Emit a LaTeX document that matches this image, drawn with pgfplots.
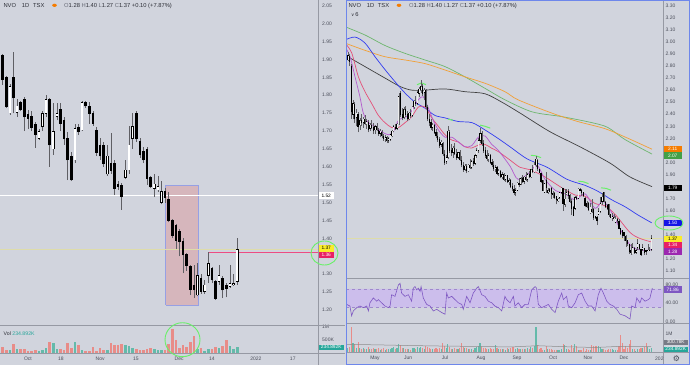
\documentclass[border=0pt]{standalone}
\usepackage{pgfplots}
\pgfplotsset{compat=1.18}
\usepackage{pgfplotstable}
\usepackage{fontspec}
\setmainfont{Liberation Sans}
\newfontfamily\symfont{DejaVu Sans}

\definecolor{bg}{RGB}{209,212,221}
\definecolor{sepc}{RGB}{150,153,163}
\definecolor{tickc}{RGB}{75,78,90}
\definecolor{hdrc}{RGB}{45,47,55}
\definecolor{hdrl}{RGB}{105,108,120}
\definecolor{wickc}{RGB}{95,95,100}
\definecolor{vred}{RGB}{232,140,136}
\definecolor{vteal}{RGB}{100,186,170}
\definecolor{boxred}{RGB}{232,32,100}
\definecolor{boxyel}{RGB}{250,236,40}
\definecolor{boxfill}{RGB}{214,182,188}
\definecolor{boxedge}{RGB}{150,160,228}
\definecolor{maorange}{RGB}{242,160,55}
\definecolor{magreen}{RGB}{110,182,110}
\definecolor{mablue}{RGB}{50,60,240}
\definecolor{mapink}{RGB}{228,80,120}
\definecolor{mapurple}{RGB}{180,90,205}
\definecolor{rsiline}{RGB}{126,87,194}
\definecolor{rsiband}{RGB}{204,190,236}
\definecolor{annot}{RGB}{105,240,105}
\definecolor{framec}{RGB}{110,135,235}
\definecolor{lblorange}{RGB}{245,124,0}
\definecolor{lblgreen}{RGB}{67,160,71}
\definecolor{lblblue}{RGB}{20,20,230}
\definecolor{lblpurple}{RGB}{156,39,176}
\definecolor{lblrsi}{RGB}{126,87,194}
\definecolor{lblgray}{RGB}{120,123,134}
\definecolor{lblteal}{RGB}{38,166,154}
\definecolor{lastline}{RGB}{222,220,170}

% left pane: daily candles Sep 21 - Dec 23 (k), volume in K
\pgfplotstableread{
k o h l c v
0 1.940 1.945 1.910 1.918 192
1 1.910 1.915 1.829 1.843 230
2 1.849 1.855 1.765 1.768 102
3 1.750 1.830 1.745 1.824 128
4 1.849 1.920 1.749 1.792 346
5 1.751 1.790 1.740 1.770 154
6 1.779 1.785 1.755 1.761 154
7 1.789 1.796 1.700 1.739 154
8 1.745 1.760 1.705 1.735 90
9 1.740 1.755 1.700 1.709 90
10 1.719 1.725 1.653 1.691 102
11 1.680 1.705 1.675 1.698 90
12 1.712 1.755 1.700 1.749 128
13 1.749 1.800 1.740 1.789 192
14 1.789 1.791 1.600 1.661 422
15 1.650 1.778 1.633 1.698 384
16 1.740 1.778 1.730 1.749 154
17 1.759 1.778 1.700 1.721 154
18 1.729 1.739 1.661 1.678 128
19 1.678 1.698 1.563 1.619 384
20 1.630 1.640 1.560 1.563 205
21 1.619 1.720 1.610 1.707 435
22 1.710 1.720 1.690 1.698 320
23 1.703 1.785 1.700 1.779 128
24 1.779 1.785 1.765 1.770 90
25 1.770 1.780 1.720 1.749 90
26 1.749 1.755 1.715 1.722 218
27 1.702 1.710 1.630 1.641 64
28 1.661 1.680 1.620 1.630 192
29 1.661 1.670 1.600 1.610 128
30 1.580 1.660 1.575 1.630 128
31 1.610 1.694 1.580 1.589 384
32 1.609 1.620 1.521 1.540 320
33 1.550 1.560 1.535 1.545 307
34 1.549 1.555 1.480 1.517 358
35 1.571 1.620 1.565 1.591 320
36 1.591 1.713 1.581 1.661 282
37 1.678 1.750 1.650 1.713 192
38 1.749 1.755 1.670 1.678 154
39 1.670 1.680 1.625 1.633 128
40 1.642 1.655 1.610 1.619 128
41 1.650 1.655 1.550 1.568 154
42 1.571 1.575 1.540 1.544 192
43 1.540 1.580 1.515 1.552 154
44 1.535 1.575 1.530 1.545 128
45 1.500 1.560 1.495 1.531 128
46 1.530 1.540 1.500 1.515 128
47 1.510 1.530 1.445 1.451 358
48 1.451 1.455 1.400 1.409 922
49 1.437 1.440 1.370 1.395 486
50 1.419 1.425 1.350 1.391 192
51 1.391 1.400 1.303 1.354 320
52 1.356 1.360 1.310 1.325 230
53 1.321 1.325 1.242 1.258 422
54 1.270 1.325 1.233 1.256 666
55 1.242 1.330 1.238 1.297 154
56 1.288 1.300 1.245 1.251 192
57 1.251 1.285 1.245 1.270 64
58 1.297 1.362 1.275 1.330 154
59 1.317 1.320 1.275 1.284 154
60 1.279 1.285 1.228 1.233 230
61 1.279 1.325 1.270 1.297 205
62 1.288 1.295 1.233 1.256 282
63 1.270 1.275 1.235 1.261 512
64 1.266 1.325 1.262 1.275 256
65 1.270 1.300 1.268 1.273 154
66 1.280 1.400 1.270 1.370 235
}\ldata

% right pane: earlier candles (j = trading days from May 3), volume in K
\pgfplotstableread{
j o h l c v
-16 2.85 2.92 2.84 2.89 250
-15 2.88 2.90 2.80 2.84 300
-14 2.80 2.82 2.36 2.42 1400
-13 2.40 2.52 2.36 2.49 500
-12 2.48 2.50 2.33 2.36 450
-11 2.37 2.44 2.30 2.41 250
-10 2.40 2.42 2.25 2.30 550
-9 2.31 2.37 2.27 2.35 200
-8 2.35 2.40 2.30 2.33 180
-7 2.33 2.38 2.29 2.36 220
-6 2.36 2.39 2.31 2.32 160
-5 2.32 2.36 2.28 2.34 150
-4 2.33 2.35 2.25 2.27 300
-3 2.28 2.33 2.26 2.31 180
-2 2.31 2.35 2.28 2.29 140
-1 2.29 2.33 2.24 2.26 200
0 2.27 2.31 2.24 2.30 170
1 2.30 2.33 2.26 2.27 150
2 2.27 2.29 2.22 2.24 220
3 2.24 2.28 2.21 2.26 130
4 2.25 2.27 2.20 2.22 180
5 2.22 2.24 2.18 2.20 200
6 2.20 2.23 2.17 2.21 120
7 2.21 2.22 2.16 2.18 160
8 2.18 2.21 2.16 2.20 140
9 2.19 2.24 2.18 2.23 190
10 2.22 2.27 2.21 2.26 230
11 2.26 2.31 2.25 2.30 260
12 2.29 2.32 2.27 2.28 150
13 2.28 2.33 2.27 2.32 210
14 2.32 2.58 2.31 2.55 420
15 2.57 2.59 2.38 2.40 380
16 2.40 2.45 2.35 2.37 220
17 2.37 2.46 2.36 2.44 200
18 2.44 2.47 2.38 2.40 150
19 2.40 2.43 2.34 2.36 170
20 2.36 2.42 2.35 2.41 140
21 2.41 2.44 2.37 2.39 120
22 2.39 2.47 2.38 2.46 200
23 2.46 2.52 2.44 2.51 240
24 2.50 2.55 2.47 2.49 160
25 2.49 2.60 2.48 2.58 280
26 2.57 2.63 2.54 2.61 250
27 2.60 2.68 2.58 2.63 300
28 2.63 2.65 2.55 2.57 220
29 2.58 2.62 2.52 2.60 180
30 2.60 2.61 2.44 2.46 350
31 2.46 2.48 2.34 2.36 300
32 2.36 2.40 2.30 2.33 200
33 2.33 2.36 2.27 2.29 180
34 2.29 2.33 2.26 2.31 150
35 2.31 2.32 2.24 2.25 170
36 2.25 2.28 2.20 2.22 200
37 2.22 2.25 2.17 2.19 160
38 2.19 2.21 2.12 2.14 220
39 2.15 2.19 2.13 2.17 150
40 2.16 2.17 2.05 2.07 500
41 2.07 2.10 1.98 2.00 350
42 2.01 2.06 1.99 2.04 200
43 2.04 2.30 2.03 2.26 450
44 2.25 2.27 2.08 2.10 300
45 2.10 2.15 2.05 2.08 180
46 2.08 2.14 2.04 2.12 150
47 2.12 2.16 2.06 2.07 200
48 2.07 2.11 2.02 2.04 160
49 2.04 2.09 2.03 2.08 140
50 2.08 2.10 2.01 2.02 250
51 2.02 2.05 1.96 1.98 500
52 1.98 2.00 1.92 1.94 300
53 1.94 1.99 1.93 1.97 200
54 1.97 1.99 1.91 1.93 220
55 1.93 1.99 1.92 1.98 180
56 1.98 2.03 1.95 1.96 150
57 1.96 2.02 1.95 2.01 170
58 2.01 2.04 1.97 1.99 130
59 1.99 2.07 1.98 2.06 240
60 2.06 2.12 2.04 2.10 280
61 2.10 2.20 2.08 2.18 350
62 2.18 2.29 2.16 2.24 500
63 2.24 2.26 2.14 2.16 300
64 2.16 2.19 2.08 2.10 250
65 2.10 2.13 2.04 2.06 200
66 2.06 2.10 2.01 2.03 180
67 2.03 2.08 2.00 2.06 150
68 2.06 2.07 1.99 2.00 220
69 2.00 2.03 1.96 1.98 170
70 1.98 2.01 1.93 1.95 190
71 1.95 1.98 1.92 1.96 400
72 1.96 1.97 1.90 1.91 200
73 1.91 1.95 1.89 1.93 150
74 1.93 1.94 1.87 1.88 180
75 1.88 1.92 1.86 1.90 140
76 1.90 1.91 1.85 1.86 160
77 1.86 1.90 1.84 1.89 130
78 1.89 1.90 1.83 1.84 210
79 1.84 1.87 1.81 1.85 150
80 1.85 1.86 1.79 1.80 230
81 1.80 1.83 1.76 1.78 260
82 1.78 1.81 1.73 1.75 300
83 1.75 1.79 1.72 1.77 180
84 1.77 1.84 1.76 1.83 250
85 1.83 1.87 1.80 1.82 160
86 1.82 1.88 1.81 1.87 190
87 1.87 1.90 1.83 1.84 140
88 1.84 1.89 1.82 1.88 170
89 1.88 1.92 1.85 1.86 150
90 1.86 1.91 1.84 1.90 200
91 1.90 1.93 1.87 1.88 160
92 1.88 1.95 1.87 1.94 300
93 1.94 1.98 1.91 1.92 250
94 1.92 2.00 1.91 1.98 350
95 1.98 2.05 1.96 2.03 1400
96 2.02 2.03 1.93 1.95 400
}\rdata

\pgfplotsset{
  base/.style={scale only axis, anchor=south west, axis line style={draw=none},
    major tick length=0pt, tick style={draw=none}, clip=true,
    ticklabel style={font=\fontsize{5}{6}\selectfont, text=tickc, inner sep=0pt},
    yticklabel pos=right,
    yticklabel style={anchor=west, /pgf/number format/fixed, /pgf/number format/fixed zerofill,
      /pgf/number format/precision=2, /pgf/number format/assume math mode=true},
    xticklabel style={anchor=base, yshift=-7.6pt}},
  ebar/.style 2 args={draw=none, forget plot, error bars/.cd, y dir=plus, y explicit,
    error mark=none, error bar style={draw=#1, line width=#2, line cap=butt, solid}},
}

\begin{document}
\begin{tikzpicture}
\fill[bg] (0,0) rectangle (690pt,365pt);
\useasboundingbox (0,0) rectangle (690pt,365pt);

%================ LEFT PANE =================
\begin{axis}[base, at={(0pt,40pt)}, width=318pt, height=325pt,
  xmin=0.238, xmax=88.4, ymin=1.1581, ymax=2.0659,
  xtick=\empty, ytick={1.20,1.25,1.30,1.40,1.45,1.50,1.55,1.60,1.65,1.70,1.75,1.80,1.85,1.90,1.95,2.00,2.05},
  yticklabel style={xshift=4pt}]
  \addplot[fill=boxfill, draw=boxedge, line width=0.8pt, forget plot]
    coordinates {(46.2,1.214)(46.2,1.549)(55.2,1.549)(55.2,1.214)(46.2,1.214)};
  \addplot[white, line width=0.6pt, forget plot] coordinates {(0.238,1.52)(88.4,1.52)};
  \addplot[lastline, line width=0.35pt, forget plot] coordinates {(0.238,1.37)(88.4,1.37)};
  \addplot[boxred!80!white, line width=0.7pt, forget plot] coordinates {(58,1.362)(88.4,1.362)};
  \addplot[ebar={wickc}{0.6pt}] table[x=k, y=l, y error plus expr=\thisrow{h}-\thisrow{l}] {\ldata};
  \addplot[ebar={black}{2.6pt}] table[x=k, y expr={min(\thisrow{o},\thisrow{c})-0.0011},
    y error plus expr={abs(\thisrow{c}-\thisrow{o})+0.0022}] {\ldata};
  \addplot[ebar={white}{1.6pt}] table[x=k, y expr={\thisrow{o}+0.0011},
    y error plus expr={max(\thisrow{c}-\thisrow{o}-0.0022,0)}] {\ldata};
\end{axis}

\begin{axis}[base, at={(0pt,12pt)}, width=318pt, height=27pt,
  xmin=0.238, xmax=88.4, ymin=0, ymax=1.038,
  ytick={0.5,1}, yticklabels={500K,1M}, yticklabel style={xshift=4pt},
  xtick={8,17.1,28,37.9,49.9,59,71.2,81.4},
  xticklabels={Oct,18,Nov,15,Dec,14,2022,17}]
  \addplot[ebar={vred}{2.6pt}] table[x=k, y expr=0,
    y error plus expr={(\thisrow{c}<\thisrow{o})*\thisrow{v}/1000}] {\ldata};
  \addplot[ebar={vteal}{2.6pt}] table[x=k, y expr=0,
    y error plus expr={(1-(\thisrow{c}<\thisrow{o}))*\thisrow{v}/1000}] {\ldata};
\end{axis}

%================ RIGHT PANE =================
\begin{axis}[base, at={(346pt,87pt)}, width=317pt, height=278pt,
  xmin=-17.12, xmax=170, ymin=1.0421, ymax=3.3473,
  xtick=\empty, ytick={1.1,1.2,1.4,1.6,1.7,1.9,2.0,2.2,2.3,2.4,2.5,2.6,2.7,2.8,2.9,3.0,3.1,3.2,3.3},
  yticklabel style={xshift=2.5pt}]
  \addplot[lastline, line width=0.35pt, forget plot] coordinates {(-17.12,1.37)(170,1.37)};
  % moving averages
  \addplot[magreen, line width=0.7pt, smooth] coordinates {(-17.7,3.126)(-5.9,3.057)(5.9,2.97)(17.7,2.905)(29.5,2.85)(41.3,2.795)(53.1,2.71)(64.9,2.615)(76.7,2.52)(92.7,2.42)(110.4,2.38)(128.1,2.33)(137.5,2.29)(147.6,2.19)(163.5,2.07)};
  \addplot[maorange, line width=0.7pt, smooth] coordinates {(-17.7,2.99)(-5.9,2.93)(5.9,2.877)(17.7,2.85)(29.5,2.82)(41.3,2.767)(53.1,2.71)(64.9,2.657)(76.7,2.587)(84.4,2.52)(104.3,2.41)(119.6,2.34)(135.8,2.28)(149.4,2.20)(163.5,2.11)};
  \addplot[black!75, line width=0.7pt, smooth] coordinates {(-17.7,2.89)(-5.9,2.795)(5.9,2.70)(14.8,2.63)(21.6,2.60)(29.5,2.60)(41.3,2.61)(53.1,2.587)(64.9,2.57)(74.9,2.50)(85.6,2.41)(103.3,2.255)(121,2.13)(138.7,1.995)(150.5,1.88)(163.5,1.80)};
  \addplot[mablue, line width=0.7pt, smooth] coordinates {(-17.7,3.016)(-11.8,3.04)(-5.9,2.99)(0,2.877)(5.9,2.77)(11.8,2.67)(17.7,2.576)(23.6,2.50)(29.5,2.45)(35.4,2.39)(41.3,2.37)(49,2.34)(57.3,2.33)(64.9,2.27)(72.6,2.20)(79.7,2.13)(89.8,2.03)(101.6,1.96)(113.4,1.86)(124,1.81)(131.7,1.76)(139.8,1.69)(147.6,1.633)(155.3,1.564)(163.3,1.50)};
  \addplot[mapink, line width=0.7pt, smooth] coordinates {(-17.7,2.99)(-13.8,2.91)(-9.8,2.71)(-5.9,2.587)(-2,2.49)(2,2.39)(5.9,2.33)(9.8,2.29)(13.8,2.29)(17.7,2.33)(21.7,2.38)(25.6,2.46)(29.5,2.46)(33.5,2.37)(37.4,2.30)(41.3,2.23)(45.3,2.186)(49.2,2.17)(53.1,2.13)(57.1,2.12)(61,2.145)(64.9,2.15)(68.9,2.118)(72.8,2.09)(79.7,2.02)(85.6,1.96)(91.5,1.94)(100.4,1.88)(109.2,1.80)(118.1,1.73)(124,1.72)(129.9,1.66)(135.8,1.64)(141.7,1.57)(150.5,1.42)(156.4,1.37)(163.5,1.34)};
  \addplot[mapurple, line width=0.7pt, smooth] coordinates {(-17.7,2.96)(-14.8,2.88)(-11.8,2.71)(-8.9,2.545)(-6.9,2.41)(-3.9,2.33)(0,2.30)(3.9,2.255)(7.9,2.23)(10.8,2.255)(13.8,2.35)(16.7,2.37)(19.7,2.39)(22.6,2.45)(25.6,2.52)(28.5,2.545)(31.5,2.45)(34.4,2.35)(37.4,2.27)(41.3,2.21)(45.3,2.21)(49.2,2.17)(53.1,2.13)(57.1,2.14)(61,2.21)(64.9,2.22)(68.9,2.15)(72.8,2.10)(79.7,1.97)(84.4,1.86)(91.5,1.92)(95.6,1.98)(100.4,1.86)(106.3,1.77)(112.2,1.74)(118.1,1.69)(124,1.74)(129.9,1.62)(134.6,1.68)(139.9,1.58)(145.8,1.42)(151.7,1.30)(159.3,1.27)(163.5,1.28)};
  % swing marks
  \addplot[annot, line width=1pt] coordinates {(24.8,2.645)(27.5,2.66)(30.1,2.645)};
  \addplot[annot, line width=1pt] coordinates {(43,2.36)(46,2.35)};
  \addplot[annot, line width=1pt] coordinates {(62,2.31)(65,2.30)(68,2.285)};
  \addplot[annot, line width=1pt] coordinates {(92,2.06)(95,2.055)(98,2.04)};
  \addplot[annot, line width=1pt] coordinates {(120,1.845)(123,1.84)(126,1.825)};
  \addplot[annot, line width=1pt] coordinates {(133.4,1.79)(136.5,1.785)(139.3,1.77)};
  % candles
  \addplot[ebar={wickc}{0.4pt}] table[x=j, y=l, y error plus expr=\thisrow{h}-\thisrow{l}] {\rdata};
  \addplot[ebar={wickc}{0.4pt}] table[x expr=\thisrow{k}+97, y=l, y error plus expr=\thisrow{h}-\thisrow{l}] {\ldata};
  \addplot[ebar={black}{1.2pt}] table[x=j, y expr={min(\thisrow{o},\thisrow{c})-0.003},
    y error plus expr={abs(\thisrow{c}-\thisrow{o})+0.006}] {\rdata};
  \addplot[ebar={black}{1.2pt}] table[x expr=\thisrow{k}+97, y expr={min(\thisrow{o},\thisrow{c})-0.003},
    y error plus expr={abs(\thisrow{c}-\thisrow{o})+0.006}] {\ldata};
  \addplot[ebar={white!85!gray}{0.5pt}] table[x=j, y expr={\thisrow{o}+0.003},
    y error plus expr={max(\thisrow{c}-\thisrow{o}-0.006,0)}] {\rdata};
  \addplot[ebar={white!85!gray}{0.5pt}] table[x expr=\thisrow{k}+97, y expr={\thisrow{o}+0.003},
    y error plus expr={max(\thisrow{c}-\thisrow{o}-0.006,0)}] {\ldata};
\end{axis}

% RSI
\begin{axis}[base, at={(346pt,42pt)}, width=317pt, height=44pt,
  xmin=-17.12, xmax=170, ymin=-3.7, ymax=91.5,
  xtick=\empty, ytick={0,40,80}, yticklabel style={xshift=2.5pt}]
  \addplot[draw=none, fill=rsiband, forget plot] coordinates {(-17.12,30)(-17.12,70)(170,70)(170,30)(-17.12,30)};
  \addplot[rsiline!60!bg, dashed, line width=0.4pt] coordinates {(-17.12,70)(170,70)};
  \addplot[rsiline!60!bg, dashed, line width=0.4pt] coordinates {(-17.12,30)(170,30)};
  \addplot[rsiline, line width=0.6pt] coordinates {(-16.7,36.5)(-14.8,33.0)(-13.8,11.9)(-12.8,22.4)(-10.8,29.5)(-8.9,33.0)(-6.9,29.5)(-4.9,33.0)(-3.9,22.4)(-3.0,40.0)(-1.0,50.5)(1.0,43.5)(2.0,47.0)(3.9,40.0)(5.9,33.0)(7.9,29.5)(8.9,33.0)(9.8,57.5)(11.8,54.0)(13.8,78.6)(14.8,82.1)(15.7,61.0)(17.7,54.0)(19.7,57.5)(21.6,43.5)(22.6,71.6)(23.6,75.1)(24.6,68.1)(25.6,71.6)(26.6,64.6)(27.2,75.1)(28.5,50.5)(30.5,36.5)(32.5,33.0)(34.4,22.4)(36.4,25.9)(39.4,18.9)(41.3,15.4)(42.3,61.0)(43.3,50.5)(45.3,54.0)(47.2,47.0)(49.2,40.0)(51.2,36.5)(52.1,25.9)(54.1,54.0)(56.1,40.0)(58.0,61.0)(60.0,71.6)(61.0,75.1)(63.0,57.5)(64.9,54.0)(66.9,43.5)(68.9,40.0)(70.8,33.0)(72.8,29.5)(74.8,22.4)(76.7,54.0)(77.7,47.0)(79.7,40.0)(81.7,54.0)(82.6,33.0)(84.6,40.0)(86.6,29.5)(88.5,36.5)(90.5,36.5)(92.5,68.1)(94.5,75.1)(95.4,71.6)(96.4,36.5)(98.4,29.5)(100.4,33.0)(102.3,36.5)(104.3,25.9)(106.3,18.9)(108.2,43.5)(110.2,61.0)(111.2,47.0)(113.1,54.0)(114.1,33.0)(116.1,29.5)(118.1,40.0)(120.0,57.5)(122.0,61.0)(124.0,43.5)(125.9,33.0)(127.9,33.0)(129.9,22.4)(131.8,57.5)(133.4,71.6)(134.8,61.0)(136.8,43.5)(138.7,36.5)(140.7,33.0)(142.7,25.9)(144.6,15.4)(147.6,11.9)(150.5,4.9)(151.5,33.0)(153.5,29.5)(154.5,50.5)(156.4,40.0)(157.4,50.5)(159.4,43.5)(161.4,47.0)(162.3,50.5)(163.7,71.9)};
\end{axis}

% right volume
\begin{axis}[base, at={(346pt,13pt)}, width=317pt, height=27pt,
  xmin=-17.12, xmax=170, ymin=0, ymax=1.5,
  ytick={1}, yticklabels={1M}, yticklabel style={xshift=2.5pt},
  xtick={0,19.5,41.3,62.6,83.8,105.1,125.7,147},
  xticklabels={May,Jun,Jul,Aug,Sep,Oct,Nov,Dec}]
  \addplot[ebar={vred}{1.1pt}] table[x=j, y expr=0, y error plus expr={(\thisrow{c}<\thisrow{o})*\thisrow{v}/1000}] {\rdata};
  \addplot[ebar={vteal}{1.1pt}] table[x=j, y expr=0, y error plus expr={(1-(\thisrow{c}<\thisrow{o}))*\thisrow{v}/1000}] {\rdata};
  \addplot[ebar={vred}{1.1pt}] table[x expr=\thisrow{k}+97, y expr=0, y error plus expr={(\thisrow{c}<\thisrow{o})*\thisrow{v}/1000}] {\ldata};
  \addplot[ebar={vteal}{1.1pt}] table[x expr=\thisrow{k}+97, y expr=0, y error plus expr={(1-(\thisrow{c}<\thisrow{o}))*\thisrow{v}/1000}] {\ldata};
  \addplot[black!45, line width=0.5pt] coordinates {(-17,0.42)(0,0.40)(20,0.36)(40,0.33)(60,0.31)(80,0.28)(96,0.35)(110,0.30)(130,0.25)(146,0.32)(163,0.30)};
\end{axis}

%================ OVERLAY (pixel coordinates) =================
\begin{scope}[x=1pt, y=-1pt, shift={(0pt,365pt)},
  lb/.style={anchor=west, inner sep=0pt, minimum height=6.5pt, font=\fontsize{4.8}{5}\selectfont, align=center},
  hdr/.style={anchor=west, inner sep=0pt, font=\fontsize{5.8}{6}\selectfont, text=hdrc}]
  % separators
  \draw[sepc, line width=0.8pt] (318,0)--(318,365);
  \draw[sepc, line width=0.8pt] (0,325.5)--(345,325.5);
  \draw[sepc, line width=0.8pt] (0,353)--(345,353);
  \draw[sepc, line width=0.8pt] (663,0)--(663,365);
  \draw[sepc, line width=0.8pt] (346,278.5)--(690,278.5);
  \draw[sepc, line width=0.8pt] (346,323.8)--(690,323.8);
  \draw[sepc, line width=0.8pt] (346,352.5)--(690,352.5);
  % left labels
  \node[lb, fill=white, text=black, minimum width=15pt] at (318.5,195.5) {1.52};
  \node[lb, fill=boxyel, text=black, minimum width=15pt] at (318.5,248.3) {1.37};
  \node[lb, fill=boxred, text=white, minimum width=15pt] at (318.5,254.8) {1.36};
  \node[lb, fill=lblteal, text=white, minimum width=25pt, minimum height=5pt] at (318.5,347) {234.892K};
  % right labels
  \node[lb, fill=lblorange, text=white, minimum width=18pt] at (663.5,149) {2.11};
  \node[lb, fill=lblgreen, text=white, minimum width=18pt] at (663.5,155.5) {2.07};
  \node[lb, fill=black, text=white, minimum width=18pt] at (663.5,187.8) {1.79};
  \node[lb, fill=lblblue, text=white, minimum width=18pt] at (663.5,222.8) {1.50};
  \node[lb, fill=boxyel, text=black, minimum width=18pt] at (663.5,238.8) {1.37};
  \node[lb, fill=boxred, text=white, minimum width=18pt] at (663.5,245.1) {1.34};
  \node[lb, fill=lblpurple, text=white, minimum width=18pt] at (663.5,251.5) {1.28};
  \node[lb, fill=lblrsi, text=white, minimum width=18pt] at (663.5,289.6) {71.86};
  \node[lb, fill=lblgray, text=white, minimum width=24pt, minimum height=5pt] at (663.5,342.3) {300.78K};
  \node[lb, fill=lblteal, text=white, minimum width=24pt, minimum height=5pt] at (663.5,349) {234.892K};
  \node[anchor=west, inner sep=0pt, font=\fontsize{5}{6}\selectfont, text=tickc] at (655,359) {202};
  \node[inner sep=0pt, font=\symfont\fontsize{8}{8}\selectfont, text=tickc] at (676.5,358.5) {⚙};
  % annotations
  \draw[annot, line width=0.9pt] (324.5,253) ellipse (13.5 and 12);
  \draw[annot, line width=0.9pt] (182.5,339.7) ellipse (17.5 and 17);
  \draw[annot, line width=0.9pt] (669,223) ellipse (14 and 7);
  % headers
  \node[hdr] at (3.3,5.5) {NVO};
  \node[hdr] at (21.7,5.5) {1D};
  \node[hdr] at (33,5.5) {TSX};
  \fill[lblorange] (54.5,5.3) ellipse (2.3 and 1.6);
  \node[hdr] at (64,5.5) {{\color{hdrl}O}1.28 {\color{hdrl}H}1.40 {\color{hdrl}L}1.27 {\color{hdrl}C}1.37 +0.10 (+7.87\%)};
  \node[hdr] at (348.3,5.5) {NVO};
  \node[hdr] at (366.7,5.5) {1D};
  \node[hdr] at (377.7,5.5) {TSX};
  \fill[lblorange] (399,5.3) ellipse (2.3 and 1.6);
  \node[hdr] at (409,5.5) {{\color{hdrl}O}1.28 {\color{hdrl}H}1.40 {\color{hdrl}L}1.27 {\color{hdrl}C}1.37 +0.10 (+7.87\%)};
  \node[hdr] at (351,14.5) {{\symfont\fontsize{4.5}{5}\selectfont ∨}\,6};
  \node[hdr, font=\fontsize{5.2}{6}\selectfont] at (3.5,333.3) {Vol \textcolor{lblteal}{234.892K}};
  % frame of right pane
  \draw[framec, line width=1pt] (346,0.5) rectangle (689.5,364.5);
\end{scope}
\end{tikzpicture}
\end{document}
